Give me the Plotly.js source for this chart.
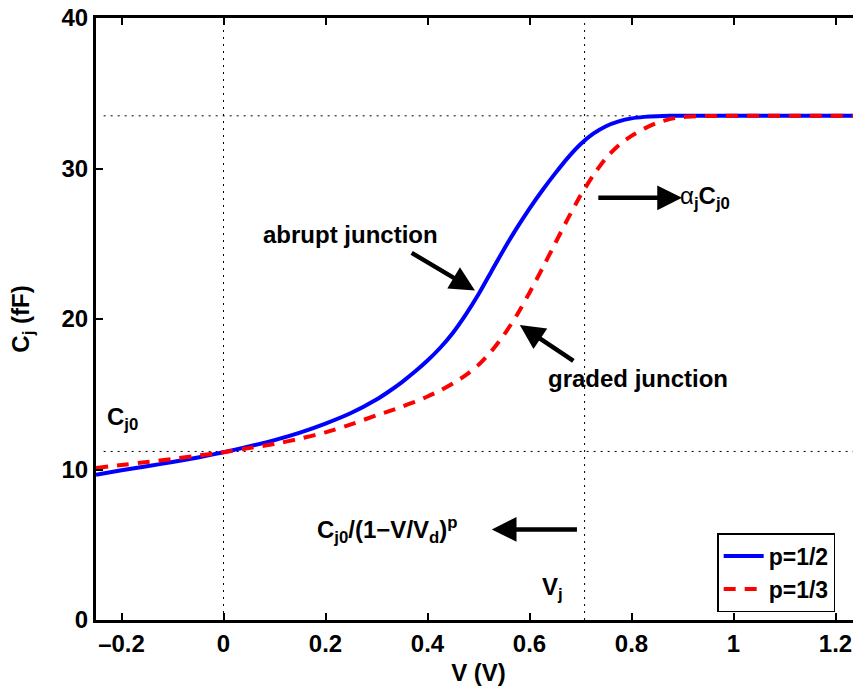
<!DOCTYPE html>
<html>
<head>
<meta charset="utf-8">
<script src="https://cdn.plot.ly/plotly-3.0.1.min.js"></script>
<style>
html,body{margin:0;padding:0;overflow:hidden;background:#fff;}
#chart{width:866px;height:686px;}
</style>
</head>
<body>
<div id="chart"></div>
<script>
// Data
const voltage = [-0.25,-0.2,-0.15,-0.1,-0.05,0,0.05,0.1,0.15,0.2,0.25,0.3,0.325,0.35,0.375,0.4,0.425,0.45,0.475,0.5,0.525,0.55,0.575,0.6,0.625,0.65,0.675,0.7,0.725,0.75,0.775,0.8,0.825,0.85,0.875,0.9,0.95,1.0,1.1,1.25];
const capAbrupt = [9.65,9.95,10.22,10.5,10.8,11.15,11.53,11.95,12.45,13.05,13.75,14.65,15.2,15.81,16.49,17.24,18.09,19.09,20.29,21.64,23.14,24.64,26.04,27.34,28.54,29.66,30.71,31.61,32.31,32.81,33.13,33.33,33.43,33.48,33.5,33.5,33.5,33.5,33.5,33.5];
const capGraded = [10.1,10.3,10.5,10.7,10.92,11.15,11.42,11.7,12.05,12.47,13.0,13.6,13.88,14.18,14.5,14.85,15.25,15.72,16.27,16.95,17.85,18.95,20.25,21.75,23.35,25.0,26.65,28.2,29.55,30.7,31.55,32.17,32.65,33.03,33.28,33.42,33.49,33.5,33.5,33.5];
const seriesNames = ['p=1/2','p=1/3'];
const refVoltages = [0, 0.708];      // dotted vertical lines (0 and Vj)
const refCaps = [11.2, 33.5];         // dotted horizontal lines (Cj0 and alpha_j*Cj0)
const xTicks = [-0.2,0,0.2,0.4,0.6,0.8,1,1.2];
const xTickText = ['\u20130.2','0','0.2','0.4','0.6','0.8','1','1.2'];
const yTicks = [0,10,20,30,40];

const FONT = 'Liberation Sans, Arial, Helvetica, sans-serif';
const FS = 24;

const traces = [
  {x: voltage, y: capAbrupt, name: seriesNames[0], mode:'lines',
   line:{color:'#0000ff', width:4, shape:'spline', smoothing:0.6}},
  {x: voltage, y: capGraded, name: seriesNames[1], mode:'lines',
   line:{color:'#ff0000', width:4, dash:'12px,9px', shape:'spline', smoothing:0.6}}
];

const shapes = [];
refVoltages.forEach(v => shapes.push({type:'line', xref:'x', yref:'paper', x0:v, x1:v, y0:0, y1:1,
  line:{color:'black', width:1, dash:'2px,5px'}, layer:'below'}));
refCaps.forEach(c => shapes.push({type:'line', xref:'paper', yref:'y', x0:0.01, x1:1, y0:c, y1:c,
  line:{color:'black', width:1, dash:'2px,5px'}, layer:'below'}));

function arrow(x, y, ax, ay){
  return {x:x, y:y, ax:ax, ay:ay, xref:'x', yref:'y', axref:'x', ayref:'y', text:'',
    showarrow:true, arrowhead:2, arrowsize:1.1, arrowwidth:4.5, arrowcolor:'black'};
}
function label(x, y, txt, xanchor){
  return {x:x, y:y, xref:'x', yref:'y', text:txt, showarrow:false, xanchor:xanchor||'center', yanchor:'middle',
    font:{family:FONT, size:FS, color:'black', weight:'bold'}};
}

const annotations = [
  label(0.249, 25.6, 'abrupt junction'),
  arrow(0.493, 21.9, 0.366, 24.45),
  label(0.8126, 16.05, 'graded junction'),
  arrow(0.581, 19.6, 0.689, 17.15),
  arrow(0.899, 28.05, 0.732, 28.05),
  label(0.891, 28.1, '<span style="font-weight:normal">\u03b1</span><sub>j</sub>C<sub>j0</sub>', 'left'),
  arrow(0.526, 6.02, 0.696, 6.02),
  label(0.321, 6.0, 'C<sub>j0</sub>/(1\u2212V/V<sub>d</sub>)<sup>p</sup>'),
  label(0.645, 2.1, 'V<sub>j</sub>'),
  label(-0.232, 13.4, 'C<sub>j0</sub>', 'left')
];

const layout = {
  width: 866, height: 686,
  margin: {l:96, r:5, t:18, b:66},
  paper_bgcolor:'white', plot_bgcolor:'white',
  font: {family: FONT, size: FS, color:'black', weight:'bold'},
  showlegend: true,
  legend: {x:0.812, y:0.013, xanchor:'left', yanchor:'bottom', bgcolor:'white',
    bordercolor:'black', borderwidth:1.5, itemwidth:40,
    font:{family:FONT, size:23, color:'black', weight:'bold'}, tracegroupgap:0},
  xaxis: {range:[-0.25,1.25], tickvals:xTicks, ticktext:xTickText, ticks:'inside', ticklen:7, tickwidth:2,
    tickcolor:'black', showline:true, linewidth:3, linecolor:'black', mirror:'ticks', showgrid:false,
    zeroline:false, title:{text:'V (V)', font:{family:FONT, size:FS, weight:'bold'}, standoff:10},
    tickfont:{family:FONT, size:FS, weight:'bold'}},
  yaxis: {range:[0,40], tickvals:yTicks, ticks:'inside', ticklen:7, tickwidth:2, tickcolor:'black',
    showline:true, linewidth:3, linecolor:'black', mirror:'ticks', showgrid:false, zeroline:false,
    title:{text:'C<sub>j</sub> (fF)', font:{family:FONT, size:FS, weight:'bold'}, standoff:26},
    tickfont:{family:FONT, size:FS, weight:'bold'}},
  shapes: shapes,
  annotations: annotations
};

Plotly.newPlot('chart', traces, layout, {displayModeBar:false, staticPlot:true});
</script>
</body>
</html>
